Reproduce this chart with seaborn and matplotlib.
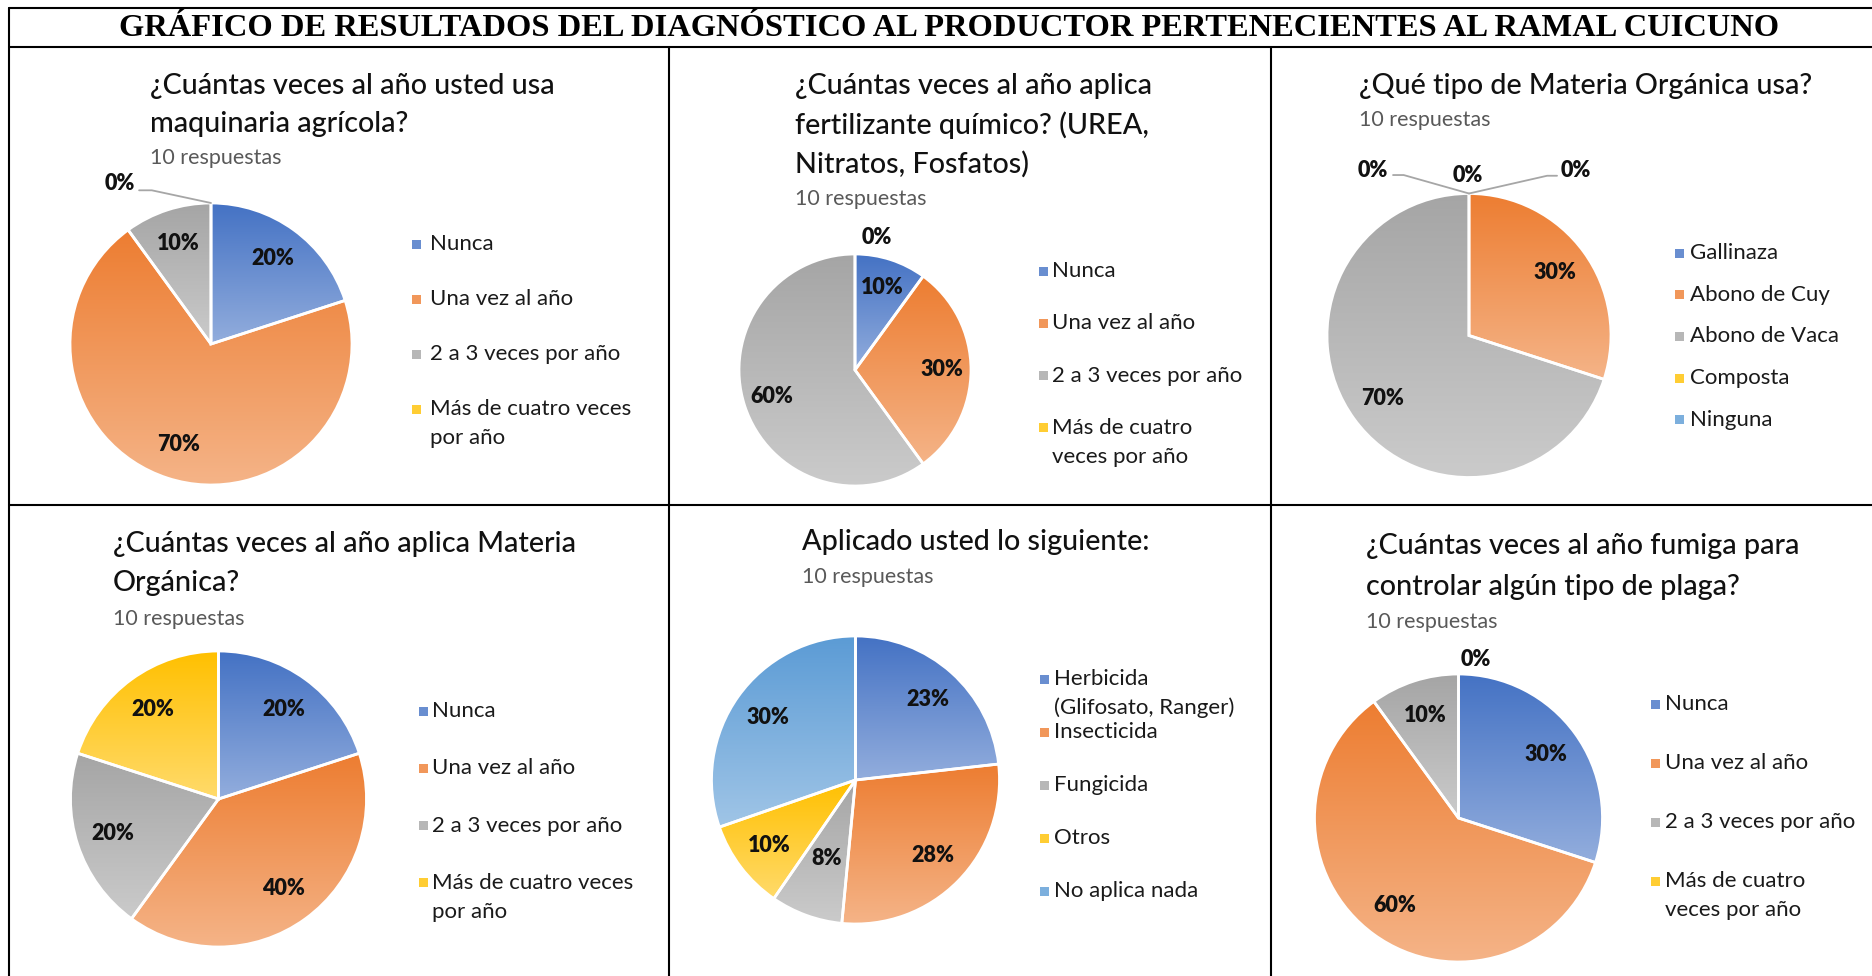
import textwrap
import numpy as np
import matplotlib
matplotlib.use("Agg")
import matplotlib.pyplot as plt
import seaborn as sns
from matplotlib.lines import Line2D
from matplotlib.patches import Rectangle
from matplotlib.colors import to_rgb

sns.set_theme(style="white")
plt.rcParams['font.family'] = ['Lato', 'DejaVu Sans']

# ---------------- data ----------------
main_title = "GRÁFICO DE RESULTADOS DEL DIAGNÓSTICO AL PRODUCTOR PERTENECIENTES AL RAMAL CUICUNO"
respuestas = "10 respuestas"

frecuencia = ["Nunca", "Una vez al año", "2 a 3 veces por año", "Más de cuatro veces por año"]

maquinaria_title = ["¿Cuántas veces al año usted usa", "maquinaria agrícola?"]
maquinaria_pct = [20, 70, 10, 0]

fertilizante_title = ["¿Cuántas veces al año aplica", "fertilizante químico? (UREA,", "Nitratos, Fosfatos)"]
fertilizante_pct = [10, 30, 60, 0]

tipo_mo_title = ["¿Qué tipo de Materia Orgánica usa?"]
tipo_mo_cats = ["Gallinaza", "Abono de Cuy", "Abono de Vaca", "Composta", "Ninguna"]
tipo_mo_pct = [0, 30, 70, 0, 0]

aplica_mo_title = ["¿Cuántas veces al año aplica Materia", "Orgánica?"]
aplica_mo_pct = [20, 40, 20, 20]

aplicado_title = ["Aplicado usted lo siguiente:"]
aplicado_cats = ["Herbicida (Glifosato, Ranger)", "Insecticida", "Fungicida", "Otros", "No aplica nada"]
aplicado_pct = [23, 28, 8, 10, 30]

fumiga_title = ["¿Cuántas veces al año fumiga para", "controlar algún tipo de plaga?"]
fumiga_pct = [30, 60, 10, 0]

# office-like palette
palette = sns.color_palette(["#4472C4", "#ED7D31", "#A5A5A5", "#FFC000", "#5B9BD5"])

# ---------------- layout (pixels) ----------------
W, H = 1872, 976
panels = [
    dict(title=maquinaria_title, cats=frecuencia, vals=maquinaria_pct,
         cx=211, cy=344, r=141, tx=150, ty=[86, 124], sy=158,
         mx=412, lx=430, ly=244, ldy=55, wrap=19,
         zeros=[(-0.65, 1.14, [(0, 1), (-0.42, 1.09), (-0.51, 1.09)])]),
    dict(title=fertilizante_title, cats=frecuencia, vals=fertilizante_pct,
         cx=855, cy=370, r=116, tx=795, ty=[86, 125, 164], sy=199,
         mx=1039, lx=1052, ly=271, ldy=52.3, wrap=14,
         zeros=[(0.19, 1.14, None)]),
    dict(title=tipo_mo_title, cats=tipo_mo_cats, vals=tipo_mo_pct,
         cx=1469, cy=335.5, r=142, tx=1359, ty=[86], sy=120,
         mx=1675, lx=1690, ly=253, ldy=41.7, wrap=30,
         zeros=[(-0.68, 1.16, [(0, 1), (-0.46, 1.13), (-0.535, 1.13)]),
                (-0.01, 1.13, None),
                (0.75, 1.16, [(0, 1), (0.55, 1.125), (0.62, 1.125)])]),
    dict(title=aplica_mo_title, cats=frecuencia, vals=aplica_mo_pct,
         cx=218.5, cy=799, r=148, tx=113, ty=[544, 583], sy=619,
         mx=419, lx=432, ly=711, ldy=57.3, wrap=19, zeros=[]),
    dict(title=aplicado_title, cats=aplicado_cats, vals=aplicado_pct,
         cx=855.5, cy=780, r=144, tx=802, ty=[542], sy=577,
         mx=1040, lx=1054, ly=679, ldy=53, wrap=19, zeros=[],
         label_r={2: 0.58}),
    dict(title=fumiga_title, cats=frecuencia, vals=fumiga_pct,
         cx=1458.5, cy=818, r=144, tx=1366, ty=[546, 587], sy=622,
         mx=1651, lx=1665, ly=704, ldy=59, wrap=14,
         zeros=[(0.12, 1.10, None)]),
]

TITLE_FS, SUB_FS, LEG_FS, LAB_FS = 20.7, 15.5, 16.0, 15.5


def fx(x):
    return x / W


def fy(y):
    return 1 - y / H


def lighten(c, k):
    c = np.array(to_rgb(c))
    return c + (1 - c) * k


fig = plt.figure(figsize=(W / 100, H / 100), dpi=100)
fig.patch.set_facecolor("white")

# table borders
lw = 1.5
for y in (8, 47, 505):
    fig.add_artist(Line2D([fx(9), 1], [fy(y), fy(y)], color="black", lw=lw, transform=fig.transFigure))
fig.add_artist(Line2D([fx(9), fx(9)], [fy(8), 0], color="black", lw=lw, transform=fig.transFigure))
for x in (669, 1271):
    fig.add_artist(Line2D([fx(x), fx(x)], [fy(47), 0], color="black", lw=lw, transform=fig.transFigure))

fig.text(fx(949), fy(28), main_title, ha="center", va="center", fontsize=23.4,
         fontweight="bold", family="Liberation Serif", color="black")

for p in panels:
    cx, cy, r = p["cx"], p["cy"], p["r"]
    m = 1.3
    ax = fig.add_axes([fx(cx - m * r), fy(cy + m * r), 2 * m * r / W, 2 * m * r / H])
    cols = palette[:len(p["vals"])]
    wedges, _ = ax.pie(p["vals"], colors=cols, startangle=90, counterclock=False, radius=1,
                       wedgeprops=dict(edgecolor="white", linewidth=2))
    # vertical gradient fill per slice, like the office chart style
    t = np.linspace(0, 1, 256)[:, None]
    for w, c in zip(wedges, cols):
        if w.theta2 - w.theta1 <= 0:
            continue
        top = np.array(to_rgb(c))
        bot = lighten(c, 0.42)
        grad = (top[None, :] * (1 - t) + bot[None, :] * t)[:, None, :]
        (x0, y0), (x1, y1) = w.get_path().get_extents().get_points()
        im = ax.imshow(grad, extent=(x0, x1, y0, y1), origin="upper", aspect="auto",
                       interpolation="bilinear", zorder=1)
        im.set_clip_path(w)
        w.set_facecolor("none")
        w.set_zorder(2)
    ax.set_xlim(-m, m)
    ax.set_ylim(-m, m)
    ax.axis("off")

    # data labels
    zi = 0
    label_r = p.get("label_r", {})
    for i, (w, v) in enumerate(zip(wedges, p["vals"])):
        if v == 0:
            zx, zy, lead = p["zeros"][zi]
            zi += 1
            if lead:
                xs, ys = zip(*lead)
                ax.plot(xs, ys, color="#A6A6A6", lw=1.3, clip_on=False, zorder=3)
            ax.text(zx, zy, f"{v}%", ha="center", va="center", fontsize=LAB_FS,
                    fontweight="heavy", color="#111111", clip_on=False)
            continue
        ang = np.deg2rad((w.theta1 + w.theta2) / 2)
        rr = label_r.get(i, 0.75)
        ax.text(rr * np.cos(ang), rr * np.sin(ang), f"{v}%", ha="center", va="center",
                fontsize=LAB_FS, fontweight="heavy", color="#111111", zorder=4)

    # titles
    for line, y in zip(p["title"], p["ty"]):
        fig.text(fx(p["tx"]), fy(y), line, ha="left", va="center", fontsize=TITLE_FS,
                 fontweight="medium", color="#111111")
    fig.text(fx(p["tx"]), fy(p["sy"]), respuestas, ha="left", va="center", fontsize=SUB_FS, color="#595959")

    # legend
    for i, (cat, c) in enumerate(zip(p["cats"], cols)):
        yc = p["ly"] + i * p["ldy"]
        fig.add_artist(Rectangle((fx(p["mx"]), fy(yc + 4.5)), 9 / W, 9 / H, transform=fig.transFigure,
                                 facecolor=lighten(c, 0.2), edgecolor="none"))
        lines = textwrap.fill(cat, p["wrap"]).split("\n") if len(cat) > 20 else [cat]
        for k, line in enumerate(lines):
            fig.text(fx(p["lx"]), fy(yc + k * 29), line, ha="left", va="center",
                     fontsize=LEG_FS, color="#1a1a1a")

fig.savefig("out.png", dpi=100, facecolor="white")
